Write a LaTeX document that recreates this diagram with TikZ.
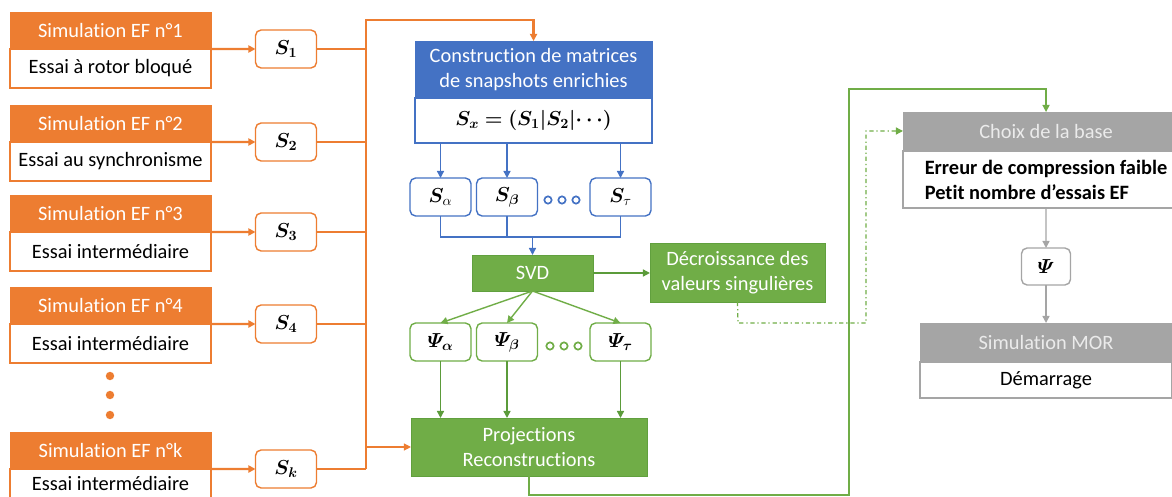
\documentclass[tikz,border=0pt]{standalone}
\usepackage{fontspec}
\setmainfont{Carlito}[Ligatures=NoCommon]
\usepackage{amsmath}
\usepackage{bm}
\usetikzlibrary{positioning,arrows.meta}

\definecolor{efOrange}{HTML}{ED7D31}
\definecolor{svdBlue}{HTML}{4472C4}
\definecolor{podGreen}{HTML}{70AD47}
\definecolor{podDark}{HTML}{5B9B3A}
\definecolor{morGray}{HTML}{A5A5A5}

\tikzset{
  box/.style={rectangle, inner sep=1pt, outer sep=0pt, align=center},
  efhead/.style={box, fill=efOrange, draw=efOrange, text=white, minimum width=5.025cm, minimum height=0.925cm},
  efbody/.style={box, fill=white, draw=efOrange, line width=1pt, minimum width=5.025cm, minimum height=0.975cm},
  snap/.style={box, fill=white, draw=#1, line width=1pt, rounded corners=4pt, minimum width=1.525cm, minimum height=0.95cm},
  conhead/.style={box, fill=svdBlue, draw=svdBlue, text=white, minimum width=5.925cm, minimum height=1.425cm},
  conbody/.style={box, fill=white, draw=svdBlue, line width=1pt, minimum width=5.925cm, minimum height=1.125cm},
  greenbox/.style={box, fill=podGreen, draw=podDark!70!podGreen, text=white},
  grayhead/.style={box, fill=morGray, draw=morGray, text=white!92!black},
  graybody/.style={box, fill=white, draw=morGray, line width=1pt},
  tip/.style={-{Triangle[length=5pt,width=5pt]}},
  efarrow/.style={tip, draw=efOrange, line width=1.6pt},
  efthin/.style={draw=efOrange, line width=0.8pt},
  blueline/.style={draw=svdBlue, line width=1pt},
  greenline/.style={draw=podDark, line width=1pt},
  dashgreen/.style={draw=podGreen, line width=0.9pt, dash dot},
  grayline/.style={draw=morGray, line width=1pt}
}

\begin{document}
\begin{tikzpicture}[x=0.025cm, y=-0.025cm, font=\fontsize{14.5}{17.8}\selectfont]
  \useasboundingbox (0,0) rectangle (1172,497);

  % Simulations EF et snapshots
  \coordinate (bustop) at (366,20);
  \coordinate (busbot) at (366,469);
  \foreach \i/\ty/\bh/\txt in {1/12/0.975/Essai à rotor bloqué, 2/105/0.975/Essai au synchronisme,
      3/195/0.975/Essai intermédiaire, 4/287/0.975/Essai intermédiaire, k/432/0.72/Essai intermédiaire} {
    \node[efhead, anchor=north west] (h\i) at (10,\ty) {Simulation EF n°\i};
    \node[efbody, below=0pt of h\i, minimum height=\bh cm] (b\i) {\txt};
    \node[snap=efOrange] (s\i) at (286,\ty+37) {$\bm{S_\i}$};
    \draw[efarrow] (h\i.south east) -- (s\i);
    \draw[efthin] (s\i.east) -- (s\i.east -| bustop);
  }
  \foreach \y in {376,395,415}
    \fill[efOrange] (110,\y) circle (3pt);

  % Matrices de snapshots
  \node[conhead, anchor=north west] (con) at (415,41) {Construction de matrices\\de snapshots enrichies};
  \node[conbody, below=0pt of con] (conb) {$\bm{S_x = (S_1|S_2|\cdots)}$};
  \draw[efarrow] (busbot) -- (bustop) -| (con.north);

  \node[snap=svdBlue] (sa) at (440.5,197) {$\bm{S}_\alpha$};
  \node[snap=svdBlue] (sb) at (507,197) {$\bm{S_\beta}$};
  \node[snap=svdBlue] (st) at (620.5,197) {$\bm{S}_\tau$};
  \foreach \x in {548,562,576}
    \draw[svdBlue, line width=1.2pt, fill=white] (\x,200) circle (2.6pt);
  \foreach \n in {sa,sb,st}
    \draw[blueline, tip] (\n |- conb.south) -- (\n);

  % SVD
  \node[greenbox, minimum width=3.025cm, minimum height=0.9cm] (svd) at (532.5,273) {SVD};
  \node[greenbox, minimum width=4.375cm, minimum height=1.475cm] (dec) at (737.5,272.5) {Décroissance des\\valeurs singulières};
  \coordinate (join) at (532.5,237);
  \draw[blueline] (sa.south) |- (join);
  \draw[blueline] (st.south) |- (join);
  \draw[blueline] (sb.south) -- (sb |- join);
  \draw[blueline, tip] (join) -- (svd);
  \draw[greenline, tip] (svd.east) -- (dec.west |- svd.east);

  \node[snap=podGreen] (pa) at (440.5,342) {$\bm{\varPsi_\alpha}$};
  \node[snap=podGreen] (pb) at (507,342) {$\bm{\varPsi_\beta}$};
  \node[snap=podGreen] (pt) at (620.5,342) {$\bm{\varPsi_\tau}$};
  \foreach \x in {550,564,578}
    \draw[podGreen, line width=1.2pt, fill=white] (\x,346) circle (2.6pt);

  \node[greenbox, minimum width=5.9cm, minimum height=1.45cm] (proj) at (529,447) {Projections\\Reconstructions};
  \foreach \n in {pa,pb,pt} {
    \draw[draw=podGreen, line width=1pt, tip] (svd.south) -- (\n.north);
    \draw[greenline, tip] (\n) -- (\n |- proj.north);
  }
  \draw[efthin, tip] (bustop |- proj.west) -- (proj.west);

  % Choix de la base et MOR
  \node[grayhead, anchor=north west, minimum width=7.15cm, minimum height=0.975cm] (choix) at (903,112) {Choix de la base};
  \node[graybody, below=0pt of choix, minimum width=7.15cm, minimum height=1.425cm, align=left,
    font=\fontsize{14.5}{17.8}\selectfont\bfseries] (choixb) {Erreur de compression faible\\Petit nombre d’essais EF};
  \node[snap=morGray, minimum width=1.225cm, minimum height=0.925cm] (psi) at (1046,266.5) {$\bm{\varPsi}$};
  \node[grayhead, anchor=north, minimum width=6.3cm, minimum height=0.975cm] (mor) at (1046,323) {Simulation MOR};
  \node[graybody, below=0pt of mor, minimum width=6.3cm, minimum height=0.9cm] (morb) {Démarrage};
  \draw[grayline, tip] (choixb.south) -- (psi.north);
  \draw[grayline, tip] (psi.south) -- (mor.north);

  \coordinate (loopa) at (529,495);
  \coordinate (loopb) at (849,89);
  \draw[draw=podGreen, line width=1pt, tip] (proj.south) -- (loopa) -| (loopb) -| (choix.north);
  \coordinate (dasha) at (738,323);
  \coordinate (dashb) at (866,131);
  \draw[dashgreen, tip] (dec.south) -- (dasha) -| (dashb) -- (dashb -| choix.west);
\end{tikzpicture}
\end{document}
